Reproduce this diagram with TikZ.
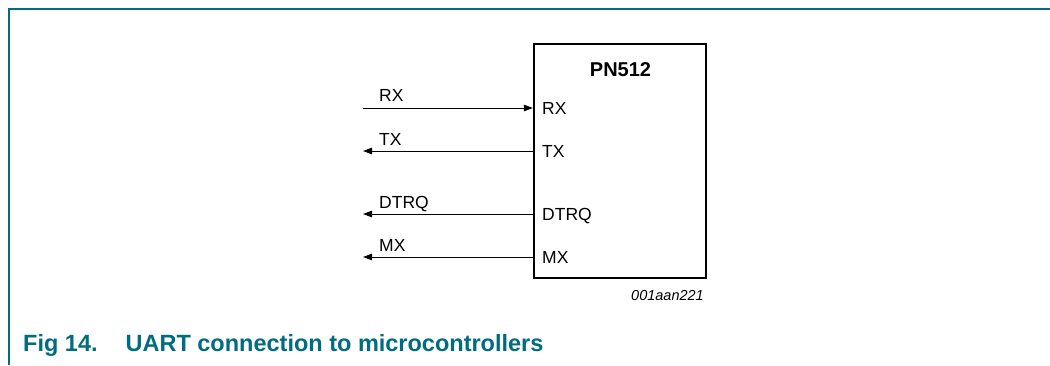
\documentclass[tikz,border=0pt]{standalone}
\usepackage{fontspec}
\setmainfont{Liberation Sans}
\usetikzlibrary{arrows.meta}
\definecolor{nxpteal}{RGB}{0,108,128}
\tikzset{
  sig/.style={line width=1pt,-{Triangle[length=9pt,width=6.5pt]}},
  pinlbl/.style={font=\fontsize{17.5}{20}\selectfont,inner sep=0pt,anchor=base west},
}
% one pin of the chip: #1 name, #2 height of its line, #3 text
\newcommand{\pin}[3]{
\coordinate (#1end) at (363,#2);
\node[pinlbl] (#1out) at (379,#2+6) {#3};
\node[pinlbl] (#1in) at (542,#2-6) {#3};
}

\begin{document}
\begin{tikzpicture}[x=1pt,y=1pt]
\useasboundingbox (0,0) rectangle (1050,365);

% frame
\draw[nxpteal,line width=2pt] (8.5,0)--(8.5,355.5)--(1050,355.5);

\node[draw,line width=2.3pt,minimum width=172pt,minimum height=234pt,inner sep=0pt] (chip) at (620,204) {};
\node[font=\bfseries\fontsize{20}{24}\selectfont,inner sep=0pt,anchor=base] (chipname) at (620.5,288) {PN512};

\pin{rx}{257}{RX}
\pin{tx}{214}{TX}
\pin{dtrq}{151}{DTRQ}
\pin{mx}{108}{MX}

\draw[sig] (rxend)--(rxend-|chip.west);
\draw[sig] (txend-|chip.west)--(txend);
\draw[sig] (dtrqend-|chip.west)--(dtrqend);
\draw[sig] (mxend-|chip.west)--(mxend);

\node[font=\itshape\fontsize{14.5}{17}\selectfont,inner sep=0pt,anchor=base east] (figid) at (704,65) {001aan221};

\node[font=\bfseries\fontsize{23.5}{28}\selectfont,text=nxpteal,inner sep=0pt,anchor=base west] (caption) at (23,14) {Fig 14.\hspace{28pt}UART connection to microcontrollers};

\end{tikzpicture}
\end{document}
